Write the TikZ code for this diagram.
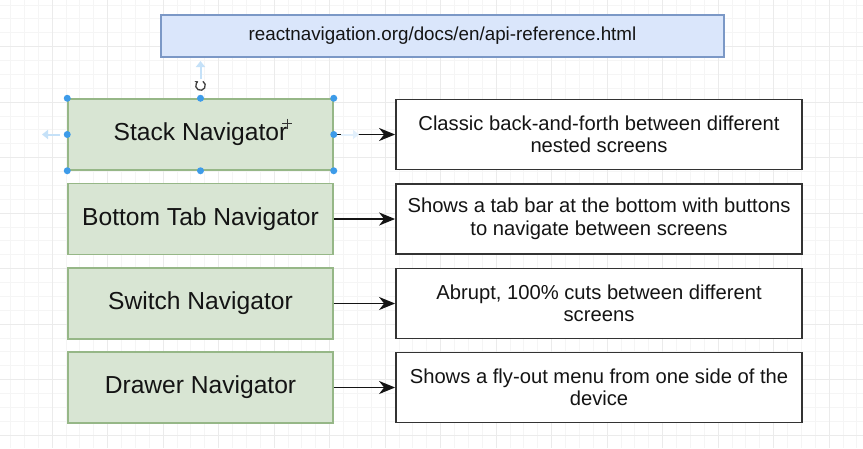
\documentclass[tikz,border=0pt]{standalone}
\usepackage{fontspec}
\setmainfont{Liberation Sans}
\usetikzlibrary{arrows.meta,calc}
\definecolor{navfill}{HTML}{D8E5D3}
\definecolor{navdraw}{HTML}{96B787}
\definecolor{urlfill}{HTML}{DAE6FB}
\definecolor{urldraw}{HTML}{7B98C6}
\definecolor{txt}{HTML}{141414}
\definecolor{handle}{HTML}{3D9BE9}
\definecolor{gridminor}{HTML}{F5F5F5}
\definecolor{gridmajor}{HTML}{EBEBEB}
\tikzset{
  navbox/.style={draw=navdraw, fill=navfill, line width=1.5pt, minimum width=265pt, minimum height=71pt, inner sep=0pt, text=txt, font=\fontsize{24.6}{27}\selectfont},
  descbox/.style={draw=black!80, fill=white, line width=1.8pt, minimum width=406pt, minimum height=70pt, inner sep=0pt, text=txt, align=center, font=\fontsize{20.2}{22.5}\selectfont},
  urlbox/.style={draw=urldraw, fill=urlfill, line width=1.2pt, minimum width=563pt, minimum height=42pt, inner sep=0pt, text=txt, font=\fontsize{18.8}{22}\selectfont},
  link/.style={draw=txt, line width=1.6pt, -{Stealth[length=16pt,width=13pt,inset=5pt]}},
  hdot/.style={circle, fill=handle, inner sep=0pt, minimum size=7pt},
  ghost/.style={draw=handle!30, line width=2pt, -{Triangle[length=6pt,width=9pt]}}
}
\begin{document}
\begin{tikzpicture}[x=1pt,y=-1pt]
\useasboundingbox (0,0) rectangle (863,448);
\fill[white] (0,0) rectangle (863,448);
% grid
\foreach \i in {0,...,63} {
  \draw[gridminor, line width=0.6pt] ({-3.5+13.875*\i},0) -- ({-3.5+13.875*\i},448);
}
\foreach \i in {0,...,33} {
  \draw[gridminor, line width=0.6pt] (0,{-9+13.875*\i}) -- (863,{-9+13.875*\i});
}
\foreach \i in {0,...,15} {
  \draw[gridmajor, line width=0.8pt] ({-3.5+55.5*\i},0) -- ({-3.5+55.5*\i},448);
}
\foreach \i in {0,...,8} {
  \draw[gridmajor, line width=0.8pt] (0,{-9+55.5*\i}) -- (863,{-9+55.5*\i});
}

\node[urlbox] (url) at (442.5,36) {reactnavigation.org/docs/en/api-reference.html};

\node[navbox] (stack)  at (200.5,134.5) {Stack Navigator};
\node[navbox] (tab)    at (200.5,219)   {Bottom Tab Navigator};
\node[navbox] (switch) at (200.5,303.5) {Switch Navigator};
\node[navbox] (drawer) at (200.5,387.5) {Drawer Navigator};

\node[descbox] (dstack)  at (599,134.5) {Classic back-and-forth between different\\nested screens};
\node[descbox] (dtab)    at (599,219)   {Shows a tab bar at the bottom with buttons\\to navigate between screens};
\node[descbox] (dswitch) at (599,303.5) {Abrupt, 100\% cuts between different\\screens};
\node[descbox] (ddrawer) at (599,387.5) {Shows a fly-out menu from one side of the\\device};

\draw[link] (stack) -- (dstack);
\draw[link] (tab) -- (dtab);
\draw[link] (switch) -- (dswitch);
\draw[link] (drawer) -- (ddrawer);

% selection handles on the Stack Navigator box
\coordinate (up0) at (200.5,79);
\coordinate (up1) at (200.5,61);
\coordinate (lf0) at (60,134.5);
\coordinate (lf1) at (42,134.5);
\coordinate (rt0) at (341,134.5);
\coordinate (rt1) at (359,134.5);
\draw[ghost] (up0) -- (up1);
\draw[ghost] (lf0) -- (lf1);
\draw[ghost, draw=handle!15] (rt0) -- (rt1);
\foreach \p in {stack.north west, stack.north, stack.north east, stack.west, stack.east, stack.south west, stack.south, stack.south east} {
  \node[hdot] at (\p) {};
}
\coordinate (rot) at (200.5,85.5);
\draw[black!75, line width=1.3pt, -{Stealth[length=3pt,width=4pt]}] ($(rot)+(-60:4.8)$) arc[start angle=-60, end angle=240, radius=4.8];
% cursor
\coordinate (cur) at (287,123.5);
\draw[black!80, line width=1pt] ($(cur)+(-5,0)$) -- ($(cur)+(5,0)$) ($(cur)+(0,-5)$) -- ($(cur)+(0,5)$);
\end{tikzpicture}
\end{document}
